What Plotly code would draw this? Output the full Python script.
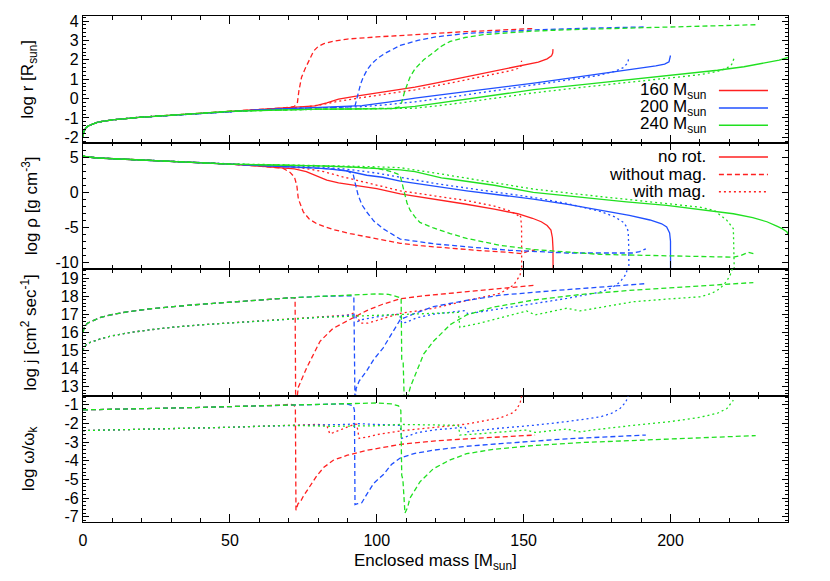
import plotly.graph_objects as go
from plotly.subplots import make_subplots

RED = '#ff2020'
BLUE = '#2050ff'
GREEN = '#20e020'

"""
#  log r [R_sun]
"""
r_early_x = [0, 0.3, 1, 2, 5, 10, 19, 30, 40, 50]
r_early_y = [-1.95, -1.7, -1.5, -1.4, -1.22, -1.1, -0.97, -0.86, -0.76, -0.66]

r160_norot_x = r_early_x + [60, 70, 75, 79, 83, 87, 93, 104, 113, 120, 130, 140, 150, 155, 158, 159.5, 159.9, 160]
r160_norot_y = r_early_y + [-0.56, -0.46, -0.42, -0.38, -0.22, -0.03, 0.12, 0.38, 0.59, 0.8, 1.1, 1.4, 1.71, 1.88, 2.05, 2.2, 2.35, 2.55]
r160_nomag_x = r_early_x + [60, 70, 72, 73, 73.5, 74.4, 75.5, 76.6, 77.5, 78.5, 80, 82, 85, 90, 100, 110, 120, 130, 140, 153.9]
r160_nomag_y = r_early_y + [-0.56, -0.46, -0.4, -0.2, 0.4, 1.1, 1.5, 1.85, 2.2, 2.45, 2.68, 2.83, 2.95, 3.07, 3.18, 3.28, 3.37, 3.45, 3.52, 3.62]
r160_mag_x = r_early_x + [60, 70, 75, 80, 87, 95, 104, 113, 125, 135, 145, 148, 149, 149.3]
r160_mag_y = r_early_y + [-0.56, -0.47, -0.44, -0.35, -0.14, 0.05, 0.24, 0.45, 0.8, 1.1, 1.42, 1.55, 1.62, 1.95]

r200_norot_x = r_early_x + [60, 70, 80, 90, 95, 104, 113, 125, 140, 153.5, 165, 175, 187.4, 195, 198, 199.5, 200]
r200_norot_y = r_early_y + [-0.59, -0.52, -0.47, -0.43, -0.37, -0.19, 0.02, 0.25, 0.52, 0.8, 1.04, 1.25, 1.5, 1.68, 1.78, 1.9, 2.22]
r200_nomag_x = r_early_x + [60, 70, 80, 90, 92.6, 93.3, 93.7, 94.5, 95.4, 96.8, 98.3, 100.5, 103, 108, 114, 120, 130.6, 153.5, 170, 191.6]
r200_nomag_y = r_early_y + [-0.59, -0.52, -0.47, -0.44, -0.38, 0.0, 0.33, 0.75, 1.1, 1.5, 1.8, 2.1, 2.35, 2.74, 3.0, 3.18, 3.36, 3.54, 3.62, 3.7]
r200_mag_x = r_early_x + [60, 70, 80, 90, 95, 104, 113, 125, 140, 153.5, 165, 175, 181, 184, 185.5, 185.8]
r200_mag_y = r_early_y + [-0.59, -0.53, -0.49, -0.46, -0.42, -0.31, -0.17, 0.07, 0.4, 0.72, 0.95, 1.18, 1.4, 1.6, 1.85, 2.13]

r240_norot_x = r_early_x + [60, 70, 80, 90, 100, 105, 113, 125, 140, 153.5, 170, 185, 199, 207, 216, 225, 232, 237, 240]
r240_norot_y = r_early_y + [-0.62, -0.57, -0.55, -0.54, -0.53, -0.52, -0.41, -0.15, 0.17, 0.46, 0.72, 0.95, 1.17, 1.3, 1.46, 1.64, 1.82, 1.98, 2.12]
r240_nomag_x = r_early_x + [60, 70, 80, 90, 100, 105, 107.5, 108.5, 109.6, 111.3, 113, 116, 119.2, 122, 125, 130, 136.3, 145, 153.2, 165, 176, 190, 205, 229]
r240_nomag_y = r_early_y + [-0.62, -0.57, -0.55, -0.54, -0.52, -0.5, -0.45, -0.19, 0.41, 1.1, 1.53, 2.0, 2.36, 2.7, 2.95, 3.15, 3.3, 3.4, 3.48, 3.55, 3.6, 3.66, 3.72, 3.81]
r240_mag_x = r_early_x + [60, 70, 80, 90, 100, 105, 113, 125, 140, 153.3, 170, 185, 199, 210, 216, 219, 220.8, 221.7]
r240_mag_y = r_early_y + [-0.62, -0.58, -0.56, -0.55, -0.54, -0.53, -0.5, -0.3, 0.0, 0.29, 0.58, 0.82, 1.02, 1.23, 1.4, 1.55, 1.75, 2.1]

"""
#  log rho [g cm^-3]
"""
rho_early_x = [0, 1, 5, 10, 18, 28, 40, 50]
rho_early_y = [5.3, 5.15, 4.97, 4.87, 4.75, 4.55, 4.3, 4.1]

rho160_norot_x = rho_early_x + [60, 68, 72, 76, 80, 83, 87, 95, 100, 108, 120, 130, 140, 148, 153, 156, 158, 159.3, 159.8, 160, 160.02]
rho160_norot_y = rho_early_y + [3.8, 3.6, 3.4, 3.0, 2.3, 1.8, 1.4, 0.9, 0.55, -0.2, -0.95, -1.65, -2.4, -3.05, -3.7, -4.2, -4.75, -5.4, -6.5, -8, -12]
rho160_nomag_x = rho_early_x + [60, 68, 70.5, 72, 72.8, 73.3, 75, 77, 79.6, 85, 90.9, 100, 108, 115, 125, 135, 145, 149.3, 150.5, 152, 153.3, 153.9]
rho160_nomag_y = rho_early_y + [3.8, 3.5, 2.9, 2.2, 1.0, -0.9, -2.8, -3.8, -4.5, -5.3, -5.9, -6.7, -7.3, -7.65, -8.05, -8.35, -8.6, -8.8, -8.6, -8.35, -8.3, -8.5]
rho160_mag_x = rho_early_x + [60, 70, 76, 82, 88, 95, 100, 108, 120, 130.6, 140, 145, 147, 148, 148.5, 149, 149.3, 149.35]
rho160_mag_y = rho_early_y + [3.85, 3.7, 3.45, 3.0, 2.3, 1.6, 1.15, 0.25, -0.5, -1.15, -1.95, -2.6, -3.0, -3.3, -3.1, -3.5, -5, -12]

rho200_norot_x = rho_early_x + [60, 70, 80, 85, 90, 96.6, 102, 108, 120, 130.6, 142, 153.3, 165, 176, 186, 193, 197, 198.7, 199.7, 200, 200.02]
rho200_norot_y = rho_early_y + [3.95, 3.75, 3.5, 3.34, 3.1, 2.49, 2.2, 1.65, 0.9, 0.25, -0.35, -0.95, -1.7, -2.5, -3.3, -3.95, -4.5, -4.95, -5.8, -7, -12]
rho200_nomag_x = rho_early_x + [60, 70, 80, 85, 90, 92, 92.6, 93.7, 95, 96.6, 99, 102.2, 108, 114.7, 120, 130.6, 145, 164.7, 187.4, 189.5, 191.6]
rho200_nomag_y = rho_early_y + [3.95, 3.75, 3.5, 3.4, 3.1, 2.6, 1.45, -0.44, -1.8, -2.8, -4.1, -5.2, -6.7, -7.15, -7.4, -7.8, -8.3, -8.7, -8.7, -8.5, -8.1]
rho200_mag_x = rho_early_x + [60, 70, 80, 90, 95, 100, 108, 120, 130.6, 142, 153.3, 165, 176, 181, 184, 185.1, 185.6, 185.8, 185.85]
rho200_mag_y = rho_early_y + [3.95, 3.85, 3.7, 3.35, 3.1, 2.8, 2.2, 1.3, 0.65, 0.0, -0.7, -1.6, -2.7, -3.5, -4.3, -4.95, -5.6, -8, -12]

rho240_norot_x = rho_early_x + [60, 70, 80, 90, 100, 108, 113, 119.3, 122, 125, 140, 153.3, 170, 185, 198.7, 210, 221.4, 228, 232.8, 236, 238, 239.6, 240]
rho240_norot_y = rho_early_y + [4.0, 3.95, 3.85, 3.7, 3.5, 3.25, 3.0, 2.4, 2.1, 1.95, 1.05, 0.03, -0.75, -1.35, -1.86, -2.4, -3.05, -3.6, -4.2, -4.8, -5.2, -5.65, -6.0]
rho240_nomag_x = rho_early_x + [60, 70, 80, 90, 100, 105, 107, 108, 108.8, 109.5, 110.3, 111.3, 113, 114.7, 117, 119.3, 125, 130.6, 142, 153.3, 176, 200, 221.4, 224, 226.5, 229]
rho240_nomag_y = rho_early_y + [4.0, 3.95, 3.85, 3.7, 3.5, 3.0, 2.7, 2.4, 1.0, -0.3, -1.5, -2.5, -3.5, -4.3, -4.75, -5.1, -5.9, -6.6, -7.6, -8.2, -8.9, -9.15, -9.3, -9.05, -8.6, -8.9]
rho240_mag_x = rho_early_x + [60, 70, 80, 90, 100, 108, 120, 140, 153.3, 170, 185, 200, 210, 215, 219.2, 221.4, 221.7, 221.75]
rho240_mag_y = rho_early_y + [4.05, 4.0, 3.92, 3.8, 3.7, 3.58, 2.8, 1.4, 0.5, -0.3, -1.0, -1.6, -2.1, -2.6, -4.0, -5.2, -8, -12]

"""
#  log j [cm^2 sec^-1]
"""
j_nomag_early_x = [0, 0.5, 1.5, 3.5, 6, 9, 15, 23, 30, 40, 50, 57, 65]
j_nomag_early_y = [16.0, 16.3, 16.5, 16.65, 16.82, 16.95, 17.13, 17.3, 17.42, 17.55, 17.66, 17.75, 17.85]
j_mag_early_x = [0, 0.5, 1.5, 3.5, 6, 9, 15, 23, 30, 40, 50, 57, 65, 70.5, 80]
j_mag_early_y = [15.0, 15.2, 15.38, 15.5, 15.64, 15.77, 15.96, 16.14, 16.27, 16.41, 16.52, 16.6, 16.69, 16.75, 16.82]

j160_nomag_x = j_nomag_early_x + [70.5, 71.5, 72.2, 72.4, 72.9, 73.3, 76.2, 80.7, 85, 91, 96.6, 102, 108, 115, 130, 153.9]
j160_nomag_y = j_nomag_early_y + [17.93, 17.92, 17.88, 12.0, 12.4, 12.96, 14.05, 15.5, 16.2, 16.7, 17.2, 17.55, 17.85, 18.0, 18.22, 18.6]
j160_mag_x = j_mag_early_x + [85, 90, 92, 93, 94.5, 97, 100, 108, 114.7, 120, 130.6, 142, 146.5, 148.8, 149.3]
j160_mag_y = j_mag_early_y + [16.88, 16.95, 17.05, 16.95, 16.5, 16.5, 16.65, 17.05, 17.2, 17.35, 17.75, 18.15, 18.6, 19.15, 19.8]

j200_nomag_x = j_nomag_early_x + [70, 80, 88, 91, 92.2, 92.6, 93, 94, 96.6, 99, 102.2, 108, 113, 119.3, 130, 142, 160, 176, 191.6]
j200_nomag_y = j_nomag_early_y + [17.9, 17.98, 18.03, 18.02, 17.95, 12.0, 12.9, 13.3, 13.87, 14.5, 15.14, 16.7, 17.05, 17.42, 17.75, 18.05, 18.3, 18.5, 18.69]
j200_mag_x = j_mag_early_x + [85.2, 90, 92.6, 93.5, 95, 100, 105, 107.8, 108.5, 110, 113.6, 119.3, 125, 130, 131, 135, 145, 153.3, 164.7, 176, 180, 182.8, 184.8, 185.8]
j200_mag_y = j_mag_early_y + [16.87, 16.92, 16.97, 16.6, 16.7, 16.85, 16.98, 17.0, 16.5, 16.55, 16.8, 17.0, 17.12, 17.2, 17.02, 17.12, 17.38, 17.55, 17.87, 18.22, 18.45, 18.78, 19.2, 19.8]

j240_nomag_x = j_nomag_early_x + [70, 80, 90, 100, 104, 106.8, 108.3, 108.5, 109.0, 109.4, 110.2, 111.5, 113.6, 116, 119.3, 125, 130.6, 140, 153.3, 170, 187.4, 210, 228.2]
j240_nomag_y = j_nomag_early_y + [17.9, 17.98, 18.05, 18.12, 18.1, 17.96, 17.9, 14.5, 14.3, 12.0, 12.2, 13.0, 13.87, 14.8, 15.5, 16.42, 16.96, 17.4, 17.78, 18.1, 18.33, 18.55, 18.75]
j240_mag_x = j_mag_early_x + [85, 95, 100, 108, 115, 120, 127.8, 128.3, 135, 142, 151, 153.9, 158, 164.7, 169.2, 175, 187.4, 200, 210, 214, 216.9, 219, 220.3, 221.4]
j240_mag_y = j_mag_early_y + [16.85, 16.9, 16.95, 16.95, 17.0, 17.05, 17.1, 16.27, 16.5, 16.78, 17.18, 16.96, 17.1, 17.33, 17.18, 17.35, 17.69, 17.85, 17.96, 18.15, 18.42, 18.8, 19.15, 19.7]

"""
#  log omega/omega_K
"""
w_nomag_early_x = [0, 10, 28, 40, 51, 60, 68]
w_nomag_early_y = [-1.27, -1.24, -1.2, -1.14, -1.09, -1.05, -1.02]
w_mag_early_x = [0, 10, 25, 40, 51, 60, 70]
w_mag_early_y = [-2.38, -2.35, -2.3, -2.25, -2.2, -2.15, -2.1]

w160_nomag_x = w_nomag_early_x + [70, 71.8, 72.3, 72.5, 73.2, 74, 75, 76.2, 78, 79.6, 82, 85.2, 90, 96.6, 108, 120, 130.6, 153.9]
w160_nomag_y = w_nomag_early_y + [-0.97, -1.0, -1.2, -6.65, -6.3, -6.2, -5.9, -5.6, -5.15, -4.8, -4.35, -3.97, -3.7, -3.44, -3.12, -2.93, -2.82, -2.62]
w160_mag_x = w_mag_early_x + [75, 80, 83, 84, 85, 88, 92.6, 93.2, 94, 97, 100, 108, 114.7, 119.3, 130.6, 142, 146, 147.6, 148.8, 149.3]
w160_mag_y = w_mag_early_y + [-2.05, -2.05, -2.1, -2.55, -2.5, -2.3, -2.03, -2.05, -2.8, -2.72, -2.6, -2.4, -2.28, -2.2, -2.03, -1.7, -1.45, -1.25, -0.9, -0.55]

w200_nomag_x = w_nomag_early_x + [75, 80, 88, 90, 92, 92.4, 92.6, 93.5, 94.9, 96.6, 99, 102.2, 105, 108, 113, 119.3, 130.6, 142, 164.7, 191.6]
w200_nomag_y = w_nomag_early_y + [-0.99, -0.97, -0.95, -0.96, -1.05, -1.3, -6.35, -6.3, -6.25, -5.8, -5.2, -4.75, -4.2, -3.85, -3.6, -3.43, -3.22, -3.08, -2.82, -2.62]
w200_mag_x = w_mag_early_x + [80, 90, 92.6, 95, 100, 108, 108.5, 110, 113.6, 119.3, 125, 130, 131, 133, 142, 153.3, 164.7, 176, 180, 182.8, 184.8, 185.6]
w200_mag_y = w_mag_early_y + [-2.08, -2.05, -2.0, -2.02, -2.05, -2.1, -2.8, -2.7, -2.5, -2.35, -2.25, -2.2, -2.45, -2.4, -2.25, -2.1, -1.9, -1.65, -1.45, -1.2, -0.85, -0.5]

w240_nomag_x = w_nomag_early_x + [75, 80, 90, 100, 105, 107.4, 108.2, 108.5, 108.9, 109.6, 110.5, 111.3, 114.7, 119.3, 125, 130.6, 140, 153.3, 170, 187.4, 210, 229]
w240_nomag_y = w_nomag_early_y + [-1.0, -0.98, -0.95, -0.9, -0.95, -1.05, -1.3, -4.77, -5.0, -6.8, -6.5, -6.0, -5.13, -4.42, -3.95, -3.62, -3.38, -3.18, -3.02, -2.91, -2.77, -2.65]
w240_mag_x = w_mag_early_x + [85, 100, 108, 115, 120, 127.8, 128.3, 135, 142, 151, 153.9, 158, 164.7, 169.2, 175, 187.4, 200, 210, 216, 219.2, 221.4]
w240_mag_y = w_mag_early_y + [-2.15, -2.12, -2.05, -2.05, -2.08, -2.1, -2.62, -2.55, -2.45, -2.35, -2.48, -2.4, -2.3, -2.45, -2.32, -2.1, -1.9, -1.67, -1.45, -1.2, -0.75]

mass_labels = ['160 M<sub>sun</sub>', '200 M<sub>sun</sub>', '240 M<sub>sun</sub>']
model_labels = ['no rot.', 'without mag.', 'with mag.']
y_titles = ['log r [R<sub>sun</sub>]', 'log ρ [g cm<sup>-3</sup>]',
            'log j [cm<sup>2</sup> sec<sup>-1</sup>]', 'log ω/ω<sub>k</sub>']

colors = [RED, BLUE, GREEN]
DASH = {'solid': 'solid', 'dashed': '5px,3px', 'dotted': '2px,3px'}

panels = [
    # row, [(x, y, color, style), ...]
    (1, [(r160_mag_x, r160_mag_y, RED, 'dotted'), (r160_nomag_x, r160_nomag_y, RED, 'dashed'), (r160_norot_x, r160_norot_y, RED, 'solid'),
         (r200_mag_x, r200_mag_y, BLUE, 'dotted'), (r200_nomag_x, r200_nomag_y, BLUE, 'dashed'), (r200_norot_x, r200_norot_y, BLUE, 'solid'),
         (r240_mag_x, r240_mag_y, GREEN, 'dotted'), (r240_nomag_x, r240_nomag_y, GREEN, 'dashed'), (r240_norot_x, r240_norot_y, GREEN, 'solid')]),
    (2, [(rho160_mag_x, rho160_mag_y, RED, 'dotted'), (rho160_nomag_x, rho160_nomag_y, RED, 'dashed'), (rho160_norot_x, rho160_norot_y, RED, 'solid'),
         (rho200_mag_x, rho200_mag_y, BLUE, 'dotted'), (rho200_nomag_x, rho200_nomag_y, BLUE, 'dashed'), (rho200_norot_x, rho200_norot_y, BLUE, 'solid'),
         (rho240_mag_x, rho240_mag_y, GREEN, 'dotted'), (rho240_nomag_x, rho240_nomag_y, GREEN, 'dashed'), (rho240_norot_x, rho240_norot_y, GREEN, 'solid')]),
    (3, [(j160_mag_x, j160_mag_y, RED, 'dotted'), (j160_nomag_x, j160_nomag_y, RED, 'dashed'),
         (j200_mag_x, j200_mag_y, BLUE, 'dotted'), (j200_nomag_x, j200_nomag_y, BLUE, 'dashed'),
         (j240_mag_x, j240_mag_y, GREEN, 'dotted'), (j240_nomag_x, j240_nomag_y, GREEN, 'dashed')]),
    (4, [(w160_mag_x, w160_mag_y, RED, 'dotted'), (w160_nomag_x, w160_nomag_y, RED, 'dashed'),
         (w200_mag_x, w200_mag_y, BLUE, 'dotted'), (w200_nomag_x, w200_nomag_y, BLUE, 'dashed'),
         (w240_mag_x, w240_mag_y, GREEN, 'dotted'), (w240_nomag_x, w240_nomag_y, GREEN, 'dashed')]),
]

fig = make_subplots(rows=4, cols=1, shared_xaxes=True, vertical_spacing=0)

for row, curves in panels:
    for x, y, c, style in curves:
        fig.add_trace(go.Scatter(x=x, y=y, mode='lines',
                                 line=dict(color=c, width=1.3, dash=DASH[style]),
                                 hoverinfo='skip'), row=row, col=1)

FONT = 'Liberation Sans, Arial, Helvetica, sans-serif'

y_ranges = [[-2.27, 4.26], [-11.0, 7.2], [12.5, 19.5], [-7.28, -0.5]]
y_ticks = [list(range(-2, 5)), [-10, -5, 0, 5], list(range(13, 20)), list(range(-7, 0))]
y_minor = [0.2, 1, 0.2, 0.2]

for i in range(4):
    fig.update_yaxes(range=y_ranges[i], tickvals=y_ticks[i], ticktext=[str(v) for v in y_ticks[i]],
                     ticks='inside', ticklen=6, tickwidth=1.2, tickcolor='black',
                     minor=dict(ticks='inside', ticklen=3, tickwidth=1, tickcolor='black', dtick=y_minor[i], tick0=0),
                     showline=True, linecolor='black', linewidth=1.3, mirror='ticks',
                     showgrid=False, zeroline=False, tickfont=dict(size=16),
                     row=i + 1, col=1)
    fig.update_xaxes(range=[0, 240], tick0=0, dtick=50,
                     ticks='inside', ticklen=8, tickwidth=1.2, tickcolor='black',
                     minor=dict(ticks='inside', ticklen=4, tickwidth=1, tickcolor='black', dtick=10, tick0=0),
                     showline=True, linecolor='black', linewidth=0.9, mirror='ticks',
                     showgrid=False, zeroline=False, tickfont=dict(size=16),
                     row=i + 1, col=1)

fig.update_xaxes(showticklabels=True, ticklabelstandoff=4, row=4, col=1)

annotations = []
centers = [0.875, 0.625, 0.375, 0.125]
for t, yc in zip(y_titles, centers):
    annotations.append(dict(text=t, xref='paper', yref='paper', x=-0.076, y=yc,
                            textangle=-90, showarrow=False, xanchor='center', yanchor='middle',
                            font=dict(size=17)))
annotations.append(dict(text='Enclosed mass [M<sub>sun</sub>]', xref='paper', yref='paper',
                        x=0.5, y=-0.08, showarrow=False, xanchor='center', yanchor='middle',
                        font=dict(size=17)))

# key blocks, gnuplot style: label on the left, line sample on the right
shapes = []
key_rows_mass = [0.8527, 0.8184, 0.7840]
key_rows_model = [0.7214, 0.6866, 0.6525]
for lab, c, yk in zip(mass_labels, colors, key_rows_mass):
    annotations.append(dict(text=lab, xref='paper', yref='paper', x=0.8865, y=yk,
                            showarrow=False, xanchor='right', yanchor='middle', font=dict(size=17)))
    shapes.append(dict(type='line', xref='paper', yref='paper', x0=0.902, x1=0.9716, y0=yk, y1=yk,
                       line=dict(color=c, width=1.5)))
for lab, st, yk in zip(model_labels, ['solid', 'dashed', 'dotted'], key_rows_model):
    annotations.append(dict(text=lab, xref='paper', yref='paper', x=0.8865, y=yk,
                            showarrow=False, xanchor='right', yanchor='middle', font=dict(size=17)))
    shapes.append(dict(type='line', xref='paper', yref='paper', x0=0.902, x1=0.9716, y0=yk, y1=yk,
                       line=dict(color=RED, width=1.5, dash=DASH[st])))

# the page body adds an 8px offset, so margins are shifted to land the frame where the reference has it
fig.update_layout(width=830, height=581,
                  margin=dict(l=75, r=50, t=5, b=67),
                  plot_bgcolor='white', paper_bgcolor='white',
                  showlegend=False,
                  font=dict(family=FONT, size=16, color='black'),
                  annotations=annotations, shapes=shapes)

fig.write_html("out.html")
